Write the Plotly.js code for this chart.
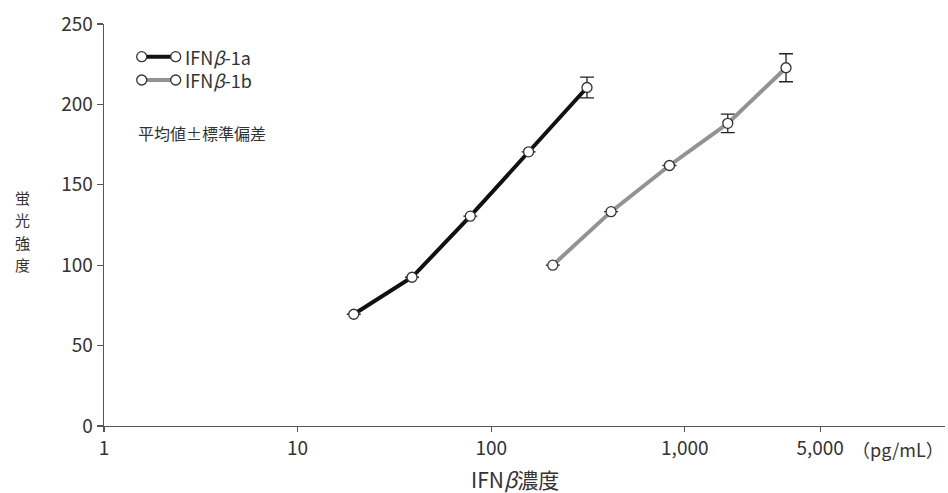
<!DOCTYPE html>
<html>
<head>
<meta charset="utf-8">
<script src="https://cdn.plot.ly/plotly-3.0.1.min.js"></script>
<style>html,body{margin:0;padding:0;background:#fff;}#chart{width:948px;height:493px;}</style>
</head>
<body>
<div id="chart"></div>
<script>
// ---- data ----
const conc1a = [19.5, 39, 78, 156, 312.5];
const fluo1a = [69.5, 92.5, 130.5, 170.5, 210.5];
const err1a  = [0, 0, 0, 0, 6.4];

const conc1b = [208, 416, 833, 1667, 3333];
const fluo1b = [100, 133.3, 162, 188.2, 222.8];
const err1b  = [0, 0, 0, 5.8, 8.7];

const xTickVals = [1, 10, 100, 1000, 5000];
const xTickText = ['1', '10', '100', '1,000', '5,000'];
const yTickVals = [0, 50, 100, 150, 200, 250];

const name1a = 'IFN<i>β</i>-1a';
const name1b = 'IFN<i>β</i>-1b';
const yTitleChars = ['蛍', '光', '強', '度'];

// ---- layout helpers (pixel -> paper) ----
const W = 948, H = 493, L = 104, R = 3, T = 24, B = 67;
const pw = W - L - R, ph = H - T - B;
const px = v => (v - L) / pw;
const py = v => (H - B - v) / ph;

const FONT = '"Noto Sans CJK JP", "Noto Sans", sans-serif';
const TXT = '#333333';

const markerStyle = {symbol: 'circle', size: 10, color: '#ffffff', line: {color: '#333333', width: 1.3}};

const traces = [
  {
    x: conc1a, y: fluo1a, type: 'scatter', mode: 'lines+markers', name: name1a,
    line: {color: '#111111', width: 4},
    marker: markerStyle,
    error_y: {type: 'data', array: err1a, visible: true, color: '#222222', thickness: 1.3, width: 7},
    showlegend: false
  },
  {
    x: conc1b, y: fluo1b, type: 'scatter', mode: 'lines+markers', name: name1b,
    line: {color: '#939393', width: 4},
    marker: markerStyle,
    error_y: {type: 'data', array: err1b, visible: true, color: '#222222', thickness: 1.3, width: 7},
    showlegend: false
  }
];

// manual legend (line with circles at both ends)
const shapes = [];
const annotations = [];
const legendRows = [56.7, 80];
function legendSymbol(yPix, color) {
  shapes.push({type: 'line', xref: 'paper', yref: 'paper', x0: px(141.7), x1: px(175.7), y0: py(yPix), y1: py(yPix),
               line: {color: color, width: 4}});
  [141.7, 175.7].forEach(cx => {
    shapes.push({type: 'circle', xref: 'paper', yref: 'paper', xsizemode: 'pixel', ysizemode: 'pixel',
                 xanchor: px(cx), yanchor: py(yPix), x0: -5, x1: 5, y0: -5, y1: 5,
                 fillcolor: '#ffffff', line: {color: '#333333', width: 1.3}});
  });
}
legendSymbol(legendRows[0], '#111111');
legendSymbol(legendRows[1], '#939393');
annotations.push({xref: 'paper', yref: 'paper', x: px(183), y: py((legendRows[0] + legendRows[1]) / 2),
                  xanchor: 'left', yanchor: 'middle', align: 'left',
                  text: name1a + '<br>' + name1b, showarrow: false, font: {family: FONT, size: 18, color: TXT}});

annotations.push({xref: 'paper', yref: 'paper', x: px(136), y: py(133), xanchor: 'left', yanchor: 'middle',
                  text: '平均値±標準偏差', showarrow: false, font: {family: FONT, size: 16, color: TXT}});
yTitleChars.forEach((ch, i) => {
  annotations.push({xref: 'paper', yref: 'paper', x: px(22), y: py(197.25 + i * 22.5), xanchor: 'center', yanchor: 'middle',
                    text: ch, showarrow: false, borderpad: 0, font: {family: FONT, size: 15, color: TXT}});
});
annotations.push({xref: 'paper', yref: 'paper', x: px(514.5), y: py(479), xanchor: 'center', yanchor: 'middle',
                  text: 'IFN<i>β</i>濃度', showarrow: false, font: {family: FONT, size: 21, color: TXT}});
annotations.push({xref: 'paper', yref: 'paper', x: px(946), y: py(449), xanchor: 'right', yanchor: 'middle',
                  text: '（pg/mL）', showarrow: false, font: {family: FONT, size: 18, color: TXT}});

const layout = {
  width: W, height: H,
  margin: {l: L, r: R, t: T, b: B},
  paper_bgcolor: '#ffffff', plot_bgcolor: '#ffffff',
  font: {family: FONT, color: TXT, size: 19},
  showlegend: false,
  xaxis: {
    type: 'log', range: [0, 4.344],
    tickvals: xTickVals, ticktext: xTickText,
    ticks: 'outside', ticklen: 5, tickwidth: 1.2, tickcolor: '#555555',
    showline: true, linecolor: '#555555', linewidth: 1.3,
    showgrid: false, zeroline: false,
    tickfont: {family: FONT, size: 19, color: TXT}
  },
  yaxis: {
    range: [0, 250],
    tickvals: yTickVals,
    ticks: 'outside', ticklen: 6, tickwidth: 1.2, tickcolor: '#555555',
    showline: true, linecolor: '#555555', linewidth: 1.3,
    showgrid: false, zeroline: false,
    tickfont: {family: FONT, size: 19, color: TXT}
  },
  shapes: shapes,
  annotations: annotations
};

Plotly.newPlot('chart', traces, layout, {displayModeBar: false, staticPlot: true});
</script>
</body>
</html>
